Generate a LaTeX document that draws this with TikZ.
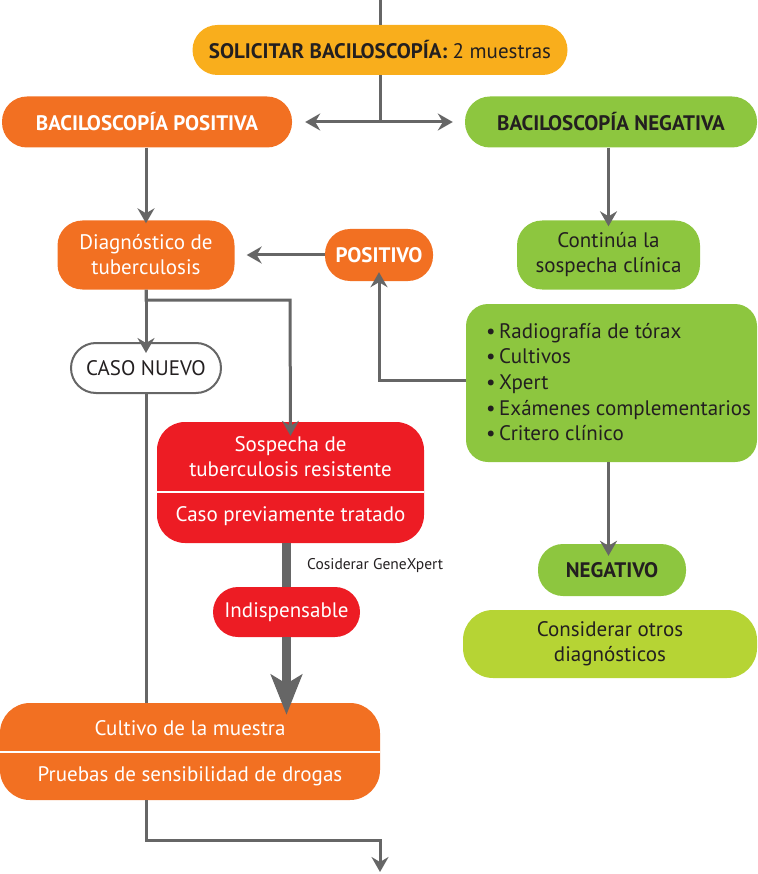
\documentclass[tikz,border=0pt]{standalone}
\usepackage{fontspec}
\setmainfont{PT Sans}
\usetikzlibrary{arrows.meta, positioning}
\definecolor{tbyellow}{RGB}{249,174,28}
\definecolor{tborange}{RGB}{242,112,34}
\definecolor{tbgreen}{RGB}{141,198,63}
\definecolor{tblime}{RGB}{182,212,52}
\definecolor{tbred}{RGB}{237,28,36}
\definecolor{tbgray}{RGB}{102,102,102}
\definecolor{tbtext}{RGB}{35,31,32}
\tikzset{
    pill/.style={
        rectangle,
        rounded corners=25pt,
        fill=#1,
        draw=none,
        inner sep=0pt,
        align=center,
        font=\fontsize{21}{25}\selectfont
    },
    plain/.style={
        inner sep=0pt,
        align=center,
        font=\fontsize{21}{25}\selectfont
    },
    flow/.style={
        ->,
        >={Stealth[length=15pt, width=17pt, inset=5pt]},
        draw=tbgray,
        line width=3pt
    },
    thick flow/.style={
        ->,
        >={Stealth[length=40pt, width=31pt, inset=9pt]},
        draw=tbgray,
        line width=9pt
    },
    split line/.style={
        draw=white,
        line width=2.5pt
    }
}
\begin{document}
\begin{tikzpicture}[x=1pt, y=-1pt]
    \useasboundingbox (0,0) rectangle (757,874);
    % top row
    \coordinate (start) at (380,0);
    \node[pill=tbyellow, minimum width=375pt, minimum height=50pt, text=tbtext] (solicitar) at (380,50)
        {\bfseries SOLICITAR BACILOSCOPÍA: \mdseries 2 muestras};
    \coordinate (fork) at (380,122);
    \node[pill=tborange, minimum width=290pt, minimum height=51pt, text=white, font=\fontsize{21}{25}\selectfont\bfseries] (bpos) at (147,122)
        {BACILOSCOPÍA POSITIVA};
    \node[pill=tbgreen, minimum width=292pt, minimum height=51pt, text=tbtext, font=\fontsize{21}{25}\selectfont\bfseries] (bneg) at (611,122)
        {BACILOSCOPÍA NEGATIVA};
    % left branch
    \node[pill=tborange, minimum width=177pt, minimum height=69pt, text=white] (diag) at (146,255)
        {Diagnóstico de\\tuberculosis};
    \node[pill=tborange, minimum width=108pt, minimum height=52pt, text=white, font=\fontsize{21}{25}\selectfont\bfseries] (pos) at (379,255)
        {POSITIVO};
    \node[pill=white, draw=tbgray, line width=2pt, minimum width=150pt, minimum height=50pt, text=tbtext] (nuevo) at (146,368)
        {CASO NUEVO};
    \node[pill=tbred, rounded corners=28pt, minimum width=267pt, minimum height=121pt] (resist) at (290.5,482.5) {};
    \node[plain, text=white] (resisttop) at (290.5,457) {Sospecha de\\tuberculosis resistente};
    \node[plain, text=white] (resistbot) at (290.5,516) {Caso previamente tratado};
    \node[pill=tbred, minimum width=147pt, minimum height=50pt, text=white] (indisp) at (286.5,612)
        {Indispensable};
    \node[anchor=west, inner sep=0pt, text=tbtext, font=\fontsize{15.5}{18}\selectfont] (gene) at (307,566)
        {Cosiderar GeneXpert};
    \node[pill=tborange, rounded corners=30pt, minimum width=380pt, minimum height=97pt] (cultivo) at (190,751.5) {};
    \node[plain, text=white] (cultop) at (190,728) {Cultivo de la muestra};
    \node[plain, text=white] (culbot) at (190,776) {Pruebas de sensibilidad de drogas};
    \coordinate (fin) at (380,872);
    % right branch
    \node[pill=tbgreen, minimum width=183pt, minimum height=69pt, text=tbtext] (sospecha) at (608.5,255)
        {Continúa la\\sospecha clínica};
    \node[pill=tbgreen, rounded corners=22pt, minimum width=291pt, minimum height=158pt, text=tbtext] (examen) at (611.5,383) {};
    \node[anchor=west, inner sep=0pt, align=left, text=tbtext, font=\fontsize{21}{25.7}\selectfont] (lista) at (486,382)
        {\textbullet\,Radiografía de tórax\\
         \textbullet\,Cultivos\\
         \textbullet\,Xpert\\
         \textbullet\,Exámenes complementarios\\
         \textbullet\,Critero clínico};
    \node[pill=tbgreen, minimum width=148pt, minimum height=52pt, text=tbtext, font=\fontsize{21}{25}\selectfont\bfseries] (neg) at (612,570)
        {NEGATIVO};
    \node[pill=tblime, rounded corners=30pt, minimum width=294pt, minimum height=68pt, text=tbtext] (otros) at (610,644)
        {Considerar otros\\diagnósticos};
    % connectors
    \draw[flow, -] (start) -- (solicitar.north);
    \draw[flow, -] (solicitar.south) -- (fork);
    \draw[flow] (fork) -- ([xshift=13pt]bpos.east);
    \draw[flow] (fork) -- ([xshift=-12pt]bneg.west);
    \draw[flow] (bpos.south -| diag.north) -- ([yshift=-3pt]diag.north);
    \draw[flow] (bneg.south -| sospecha.north) -- ([yshift=-6pt]sospecha.north);
    \draw[flow] (pos.west) -- ([xshift=12pt]diag.east);
    \draw[flow] (diag.south) -- ([yshift=-11pt]nuevo.north);
    \draw[flow] (diag.south) |- (290,300) -- ([yshift=-14pt]resist.north);
    \draw[flow] (examen.west |- 0,380) -| ([yshift=9pt]pos.south);
    \draw[flow] (examen.south -| sospecha.south) -- ([yshift=-12pt]neg.north -| sospecha.south);
    \draw[flow, -] (nuevo.south) -- (nuevo.south |- cultivo.north);
    \draw[split line] (resist.west |- 0,492) -- (resist.east |- 0,492);
    \draw[split line] (cultivo.west |- 0,752) -- (cultivo.east |- 0,752);
    \draw[thick flow, -] (resist.south -| indisp.south) -- (indisp.north);
    \draw[thick flow] (indisp.south) -- ([yshift=-12pt]cultivo.north -| indisp.south);
    \draw[flow] (cultivo.south -| nuevo.south) |- (380,840) -- (fin);
\end{tikzpicture}
\end{document}
